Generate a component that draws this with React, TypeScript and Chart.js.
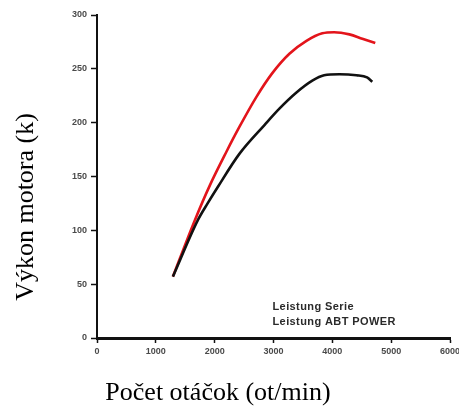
import React, { useEffect, useRef } from "react";
import { Chart, registerables } from "chart.js";

Chart.register(...registerables);

// Stock engine ("Leistung Serie") – rpm and power
const serieRpm = [1290, 1710, 1880, 2050, 2420, 2850, 3100, 3390, 3660, 3860, 4120, 4410, 4590, 4680];
const seriePower = [57, 109, 125, 140, 171, 198, 213, 228, 239, 244, 245, 244, 242, 238];

// Tuned engine ("Leistung ABT POWER") – rpm and power
const abtRpm = [1290, 1660, 1920, 2200, 2420, 2710, 2980, 3270, 3560, 3830, 4030, 4290, 4510, 4730];
const abtPower = [57, 109, 142, 173, 196, 224, 246, 264, 276, 283, 284, 282, 278, 274];

const seriesLabels = ["Leistung Serie", "Leistung ABT POWER"];
const seriesColors = ["#111111", "#e3141b"];

const xTitle = "Počet otáčok (ot/min)";
const yTitle = "Výkon motora (k)";

const xMin = 0;
const xMax = 6000;
const xStep = 1000;
const yMin = 0;
const yMax = 300;
const yStep = 50;

const toPoints = (xs: number[], ys: number[]) => xs.map((x, i) => ({ x, y: ys[i] }));

const overlayPlugin = {
  id: "overlayText",
  afterDraw(chart: any) {
    const ctx = chart.ctx;
    const xs = chart.scales.x;
    const ys = chart.scales.y;
    ctx.save();
    // legend text (text only, inside plot)
    ctx.fillStyle = "#2a2a2a";
    ctx.font = "bold 11px 'Liberation Sans', Arial, sans-serif";
    try { (ctx as any).letterSpacing = "0.4px"; } catch (e) {}
    ctx.textAlign = "left";
    ctx.textBaseline = "middle";
    const lx = xs.getPixelForValue(3000) - 1;
    ctx.fillText(seriesLabels[0], lx, ys.getPixelForValue(29));
    ctx.fillText(seriesLabels[1], lx, ys.getPixelForValue(15));
    try { (ctx as any).letterSpacing = "0px"; } catch (e) {}
    // axis titles
    ctx.fillStyle = "#000";
    ctx.font = "26px 'Liberation Serif', 'Times New Roman', serif";
    ctx.textAlign = "center";
    ctx.textBaseline = "alphabetic";
    ctx.fillText(xTitle, 218, 400);
    ctx.translate(33, 207);
    ctx.rotate(-Math.PI / 2);
    ctx.fillText(yTitle, 0, 0);
    ctx.restore();
  },
};

export default function App() {
  const canvasRef = useRef<HTMLCanvasElement | null>(null);

  useEffect(() => {
    document.body.style.margin = "0";
    const canvas = canvasRef.current;
    if (!canvas) return;
    const tickFont = { family: "'Liberation Sans', Arial, sans-serif", size: 9, weight: "bold" as const };
    const plain = (v: any) => String(v);
    const chart = new Chart(canvas, {
      type: "line",
      data: {
        datasets: [
          {
            label: seriesLabels[0],
            data: toPoints(serieRpm, seriePower),
            borderColor: seriesColors[0],
            backgroundColor: seriesColors[0],
            borderWidth: 2.6,
            pointRadius: 0,
            cubicInterpolationMode: "monotone",
            fill: false,
          },
          {
            label: seriesLabels[1],
            data: toPoints(abtRpm, abtPower),
            borderColor: seriesColors[1],
            backgroundColor: seriesColors[1],
            borderWidth: 2.6,
            pointRadius: 0,
            cubicInterpolationMode: "monotone",
            fill: false,
          },
        ],
      },
      options: {
        animation: false,
        responsive: false,
        maintainAspectRatio: false,
        layout: { padding: { left: 0, top: 15, right: 9, bottom: 0 } },
        plugins: {
          legend: { display: false },
          tooltip: { enabled: false },
          title: { display: false },
        },
        scales: {
          x: {
            type: "linear",
            min: xMin,
            max: xMax,
            ticks: { stepSize: xStep, color: "#4a4a4a", font: tickFont, padding: 3, maxRotation: 0, callback: plain },
            grid: { drawOnChartArea: false, drawTicks: true, tickLength: 5, tickColor: "#111", tickWidth: 1.5 },
            border: { display: true, color: "#111", width: 3 },
            afterFit(scale: any) {
              scale.height = 69;
              scale.paddingLeft = 0;
              scale.paddingRight = 0;
            },
          },
          y: {
            type: "linear",
            min: yMin,
            max: yMax,
            ticks: { stepSize: yStep, color: "#4a4a4a", font: tickFont, padding: 4, callback: plain },
            grid: { drawOnChartArea: false, drawTicks: true, tickLength: 6, tickColor: "#111", tickWidth: 1.5 },
            border: { display: true, color: "#111", width: 2 },
            afterFit(scale: any) {
              scale.width = 97;
              scale.paddingTop = 0;
              scale.paddingBottom = 0;
            },
          },
        },
      },
      plugins: [overlayPlugin],
    });
    return () => chart.destroy();
  }, []);

  return (
    <div style={{ position: "absolute", left: 0, top: 0, width: 459, height: 407, background: "#fff" }}>
      <canvas ref={canvasRef} width={459} height={407} style={{ width: 459, height: 407, display: "block" }} />
    </div>
  );
}
